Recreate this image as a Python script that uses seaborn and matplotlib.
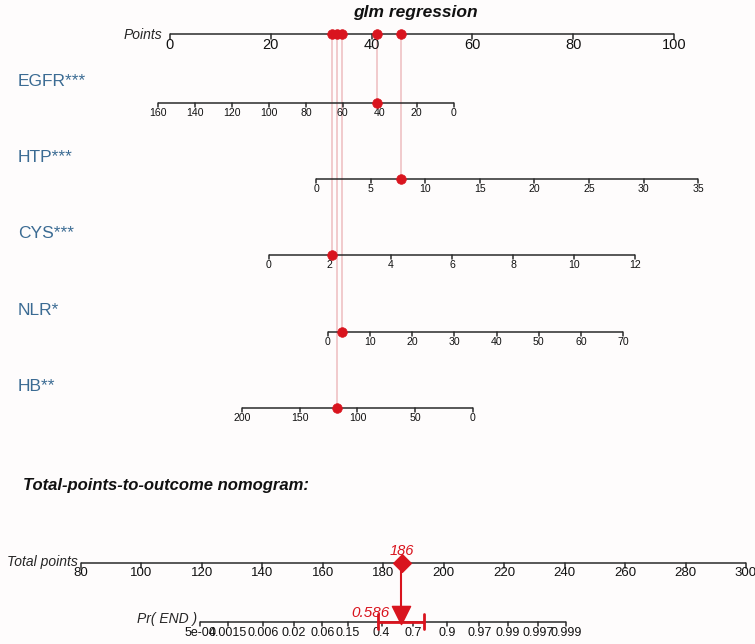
import numpy as np
import pandas as pd
import matplotlib
matplotlib.use("Agg")
import matplotlib.pyplot as plt
from matplotlib import font_manager
import seaborn as sns

# ---------------- data ----------------
points_ticks = [0, 20, 40, 60, 80, 100]

var_names = ["EGFR***", "HTP***", "CYS***", "NLR*", "HB**"]
egfr_ticks = [160, 140, 120, 100, 80, 60, 40, 20, 0]
htp_ticks = [0, 5, 10, 15, 20, 25, 30, 35]
cys_ticks = [0, 2, 4, 6, 8, 10, 12]
nlr_ticks = [0, 10, 20, 30, 40, 50, 60, 70]
hb_ticks = [200, 150, 100, 50, 0]
# points at the first and last tick of each variable scale
egfr_pts = [-2.4, 56.3]
htp_pts = [29.0, 104.8]
cys_pts = [19.6, 92.3]
nlr_pts = [31.3, 89.9]
hb_pts = [14.3, 60.1]
patient_values = [41.6, 7.8, 2.07, 3.3, 117.7]

total_ticks = [80, 100, 120, 140, 160, 180, 200, 220, 240, 260, 280, 300]
prob_ticks = [5e-4, 0.0015, 0.006, 0.02, 0.06, 0.15, 0.4, 0.7, 0.9, 0.97, 0.99, 0.997, 0.999]
prob_labels = ["5e-04", "0.0015", "0.006", "0.02", "0.06", "0.15", "0.4", "0.7",
               "0.9", "0.97", "0.99", "0.997", "0.999"]
lp_total_at_zero = 182.8     # total points where logit = 0
lp_total_per_unit = 8.346    # total points per logit unit
pred_prob = 0.586
pred_ci = [0.37, 0.78]
pred_label = "0.586"
total_label = "186"

# ---------------- style ----------------
sns.set_theme(style="white")
plt.rcParams['font.family'] = ['Liberation Sans', 'DejaVu Sans']
names = {f.name for f in font_manager.fontManager.ttflist}
narrow = ['Liberation Sans Narrow', 'Liberation Sans'] if 'Liberation Sans Narrow' in names else ['Liberation Sans']

RED = '#d9141e'
PINK = '#f0c6c9'
LINE = '#2a2a2a'
BLUE = '#3b6b93'
BG = '#fefcfc'

W, H = 755, 644
fig = plt.figure(figsize=(W / 100, H / 100), dpi=100, facecolor=BG)

# top axes: x in "Points" units, y in pixel rows
PX0, PX100 = 170.0, 674.0
ppp = (PX100 - PX0) / 100.0
ax = fig.add_axes([0, 0, 1, 1])
ax.set_xlim((0 - PX0) / ppp, (W - PX0) / ppp)
ax.set_ylim(H, 0)
ax.axis('off')
ax.set_facecolor(BG)

# bottom axes: x in "Total points" units
TX80, TX300 = 81.0, 746.0
tpp = (TX300 - TX80) / 220.0
ax2 = fig.add_axes([0, 0, 1, 1])
ax2.set_xlim(80 - TX80 / tpp, 80 + (W - TX80) / tpp)
ax2.set_ylim(H, 0)
ax2.axis('off')
ax2.patch.set_alpha(0)


def draw_scale(a, xs, labels, y, fs, tick=5, dy=10, family=None, lw=1.1):
    a.plot([min(xs), max(xs)], [y, y], color=LINE, lw=lw, solid_capstyle='butt', zorder=2)
    for x, lab in zip(xs, labels):
        a.plot([x, x], [y, y + tick], color=LINE, lw=lw, zorder=2)
        a.text(x, y + dy, lab, ha='center', va='center', fontsize=fs,
               family=family if family else plt.rcParams['font.family'], color='#111111')


# title
ax.text((415 - PX0) / ppp, 12, "glm regression", ha='center', va='center',
        fontsize=12.5, fontweight='bold', fontstyle='italic', color='#111111')

# Points axis
Y_POINTS = 34
draw_scale(ax, points_ticks, [str(t) for t in points_ticks], Y_POINTS, 10.5, tick=5, dy=11, family=narrow)
ax.text((162 - PX0) / ppp, Y_POINTS + 1, "Points", ha='right', va='center', fontsize=10, fontstyle='italic')

# variable scales
scales = [egfr_ticks, htp_ticks, cys_ticks, nlr_ticks, hb_ticks]
pts_ranges = [egfr_pts, htp_pts, cys_pts, nlr_pts, hb_pts]
row_y = [103, 179, 255, 332, 408]

rows = []
for name, ticks, pr, y, val in zip(var_names, scales, pts_ranges, row_y, patient_values):
    v0, v1 = ticks[0], ticks[-1]
    to_pts = lambda v, v0=v0, v1=v1, pr=pr: pr[0] + (v - v0) * (pr[1] - pr[0]) / (v1 - v0)
    xs = [to_pts(t) for t in ticks]
    draw_scale(ax, xs, [str(t) for t in ticks], y, 7.6, tick=4, dy=10)
    ax.text((18 - PX0) / ppp, y - 22, name, ha='left', va='center', fontsize=12.5, color=BLUE)
    p = to_pts(val)
    rows.append({"var": name, "pts": p, "y": y})
    ax.plot([p, p], [Y_POINTS, y], color=PINK, lw=1.3, zorder=1)

df = pd.DataFrame(rows)
sns.scatterplot(data=df, x="pts", y="y", ax=ax, color=RED, s=48, edgecolor=RED, linewidth=0.5,
                legend=False, zorder=4)
df_top = df.assign(y=Y_POINTS)
sns.scatterplot(data=df_top, x="pts", y="y", ax=ax, color=RED, s=48, edgecolor=RED, linewidth=0.5,
                legend=False, zorder=4)
ax.set_xlabel(""); ax.set_ylabel("")
ax.set_xlim((0 - PX0) / ppp, (W - PX0) / ppp)
ax.set_ylim(H, 0)

# subtitle
ax2.text(80 + (23 - TX80) / tpp, 485, "Total-points-to-outcome nomogram:", ha='left', va='center',
         fontsize=12, fontweight='bold', fontstyle='italic', color='#111111')

# Total points axis
Y_TOTAL = 563
draw_scale(ax2, total_ticks, [str(t) for t in total_ticks], Y_TOTAL, 9.5, tick=5, dy=10, family=narrow)
ax2.text(80 + (78 - TX80) / tpp, Y_TOTAL - 1, "Total points", ha='right', va='center',
         fontsize=10, fontstyle='italic')

# Pr(END) axis
def prob_to_total(p):
    p = np.asarray(p, dtype=float)
    return lp_total_at_zero + np.log(p / (1 - p)) * lp_total_per_unit

Y_PR = 622
draw_scale(ax2, list(prob_to_total(prob_ticks)), prob_labels, Y_PR, 9, tick=4, dy=11)
ax2.text(80 + (197 - TX80) / tpp, Y_PR - 3, "Pr( END )", ha='right', va='center',
         fontsize=10, fontstyle='italic')

# patient total & prediction
total_pts = df["pts"].sum()
x_pred = float(prob_to_total(pred_prob))
ci_x = prob_to_total(pred_ci)
ax2.plot([x_pred, x_pred], [Y_TOTAL, Y_PR - 10], color=RED, lw=1.5, zorder=3)
ax2.plot(ci_x, [Y_PR, Y_PR], color=RED, lw=2, zorder=3)
for cx in ci_x:
    ax2.plot([cx, cx], [Y_PR - 8, Y_PR + 7], color=RED, lw=2, zorder=3)
sns.scatterplot(x=[total_pts], y=[Y_TOTAL], ax=ax2, marker='D', color=RED, s=85,
                edgecolor=RED, legend=False, zorder=5)
sns.scatterplot(x=[x_pred], y=[Y_PR - 7], ax=ax2, marker='v', color=RED, s=170,
                edgecolor=RED, legend=False, zorder=5)
ax2.text(total_pts, Y_TOTAL - 12, total_label, ha='center', va='center', fontsize=10.5,
         fontstyle='italic', color=RED)
ax2.text(x_pred - 3.5, Y_PR - 9, pred_label, ha='right', va='center', fontsize=11,
         fontstyle='italic', color=RED)
ax2.set_xlabel(""); ax2.set_ylabel("")
ax2.set_xlim(80 - TX80 / tpp, 80 + (W - TX80) / tpp)
ax2.set_ylim(H, 0)
ax2.axis('off')

fig.savefig("out.png", dpi=100, facecolor=BG)
